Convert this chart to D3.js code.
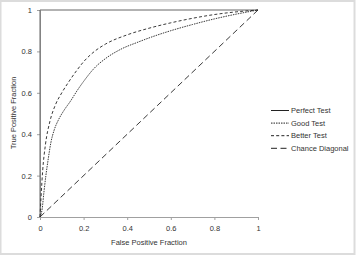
<!DOCTYPE html>
<html><head><meta charset="utf-8">
<script src="https://cdn.jsdelivr.net/npm/d3@7"></script>
<style>body{margin:0;background:#fff}svg{display:block}text{font-family:"Liberation Sans",Arial,sans-serif;fill:#333}</style>
</head><body>
<svg id="c" width="356" height="255"></svg>
<script>
const perfectX = [0, 0, 1];
const perfectY = [0, 1, 1];
const goodX = [0, 0.01, 0.018, 0.027, 0.037, 0.05, 0.065, 0.085, 0.11, 0.14, 0.17, 0.2, 0.25, 0.3, 0.37, 0.45, 0.5, 0.6, 0.7, 0.8, 0.9, 1];
const goodY = [0, 0.04, 0.12, 0.2, 0.275, 0.36, 0.42, 0.47, 0.515, 0.56, 0.61, 0.655, 0.72, 0.765, 0.81, 0.845, 0.865, 0.9, 0.93, 0.957, 0.98, 1];
const betterX = [0, 0.005, 0.012, 0.025, 0.045, 0.07, 0.1, 0.13, 0.17, 0.2, 0.25, 0.3, 0.4, 0.5, 0.6, 0.7, 0.8, 0.9, 1];
const betterY = [0, 0.1, 0.22, 0.35, 0.46, 0.54, 0.6, 0.65, 0.71, 0.75, 0.8, 0.835, 0.88, 0.912, 0.938, 0.96, 0.978, 0.991, 1];
const chanceX = [0, 1];
const chanceY = [0, 1];
const ticks = [0, 0.2, 0.4, 0.6, 0.8, 1];
const seriesNames = ["Perfect Test", "Good Test", "Better Test", "Chance Diagonal"];
const dashes = [null, "1.5,1", "3,2.2", "6,3.5"];

const svg = d3.select("#c");
svg.append("rect").attr("x", 0.5).attr("y", 1).attr("width", 354).attr("height", 253)
  .attr("fill", "#fff").attr("stroke", "#dcdcdc").attr("stroke-width", 2);

const x = d3.scaleLinear().domain([0, 1]).range([40, 258]);
const y = d3.scaleLinear().domain([0, 1]).range([217, 10]);

const fmt = d => String(d);
const xa = svg.append("g").attr("transform", "translate(0,217)")
  .call(d3.axisBottom(x).tickValues(ticks).tickSize(3).tickSizeOuter(0).tickPadding(6).tickFormat(fmt));
const ya = svg.append("g").attr("transform", "translate(40,0)")
  .call(d3.axisLeft(y).tickValues(ticks).tickSize(3).tickSizeOuter(0).tickPadding(5).tickFormat(fmt));
[xa, ya].forEach(a => {
  a.selectAll("path,line").attr("stroke", "#a0a0a0");
  a.selectAll("text").attr("font-size", 7.5).attr("fill", "#333").attr("font-family", "Liberation Sans, Arial, sans-serif");
});

const line = d3.line().x(d => x(d[0])).y(d => y(d[1])).curve(d3.curveMonotoneX);
const lineL = d3.line().x(d => x(d[0])).y(d => y(d[1]));
const series = [
  [perfectX, perfectY], [goodX, goodY], [betterX, betterY], [chanceX, chanceY]
];
series.forEach((s, i) => {
  const pts = s[0].map((v, j) => [v, s[1][j]]);
  svg.append("path").attr("d", (i === 1 || i === 2) ? line(pts) : lineL(pts))
    .attr("fill", "none").attr("stroke", i === 0 ? "#666" : "#222")
    .attr("stroke-width", i === 0 ? 1 : 0.9)
    .attr("stroke-dasharray", dashes[i]);
});

const lg = svg.append("g");
seriesNames.forEach((n, i) => {
  const yy = 110.5 + i * 12.6;
  lg.append("line").attr("x1", 271).attr("x2", 289).attr("y1", yy).attr("y2", yy)
    .attr("stroke", "#222").attr("stroke-width", 1).attr("stroke-dasharray", dashes[i]);
  lg.append("text").attr("x", 291).attr("y", yy + 2.6).attr("font-size", 7.5).text(n);
});

svg.append("text").attr("x", 149).attr("y", 245).attr("text-anchor", "middle")
  .attr("font-size", 7.5).text("False Positive Fraction");
svg.append("text").attr("transform", "translate(16,113) rotate(-90)").attr("text-anchor", "middle")
  .attr("font-size", 7.5).text("True Positive Fraction");
</script>
</body></html>
